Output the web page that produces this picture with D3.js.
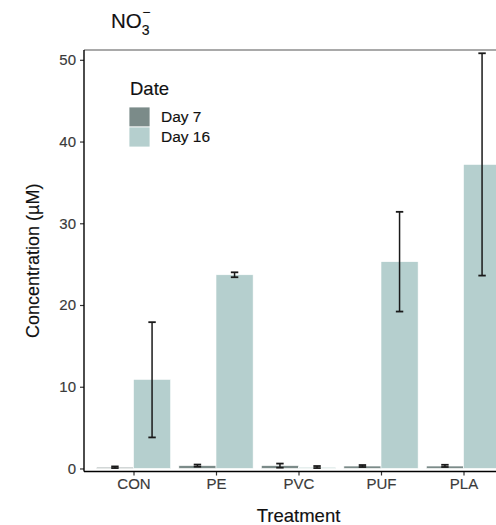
<!DOCTYPE html>
<html>
<head>
<meta charset="utf-8">
<script src="https://cdn.jsdelivr.net/npm/d3@7"></script>
<style>
  html, body { margin: 0; padding: 0; background: #fff; }
  svg { display: block; font-family: "Liberation Sans", Arial, sans-serif; }
  svg text { stroke-width: 0.15px; }
</style>
</head>
<body>
<svg id="chart" width="496" height="525"></svg>
<script>
// Nitrate concentration by treatment, two sampling dates
const categories = ["CON", "PE", "PVC", "PUF", "PLA"];
const dates = ["Day 7", "Day 16"];

const day7Mean = [0.15, 0.35, 0.35, 0.3, 0.3];
const day7Low  = [0.05, 0.22, 0.1, 0.18, 0.18];
const day7High = [0.25, 0.48, 0.6, 0.42, 0.45];

const day16Mean = [10.9, 23.7, 0.15, 25.3, 37.2];
const day16Low  = [3.8, 23.4, 0.05, 19.2, 23.6];
const day16High = [17.9, 24.0, 0.3, 31.4, 50.8];

const yTicks = [0, 10, 20, 30, 40, 50];
const colors = { "Day 7": "#7b8b89", "Day 16": "#b5cfce" };

const rows = [];
categories.forEach((c, i) => {
  rows.push({ cat: c, idx: i + 1, date: "Day 7", mean: day7Mean[i], lo: day7Low[i], hi: day7High[i] });
  rows.push({ cat: c, idx: i + 1, date: "Day 16", mean: day16Mean[i], lo: day16Low[i], hi: day16High[i] });
});

const svg = d3.select("#chart");

const panel = { left: 84, top: 50, bottom: 471.5 };
const step = 82.5;
const panelRight = panel.left + 5.2 * step;

// discrete positions 1..5 with 0.6 padding either side
const x = d3.scaleLinear().domain([0.4, 5.6]).range([panel.left, panelRight]);
const y = d3.scaleLinear().domain([-0.37, 51.2]).range([panel.bottom, panel.top]);

const dodge = 0.9;
const barW = dodge / 2;
const offset = d => (d.date === "Day 7" ? -barW / 2 : barW / 2);

// panel outline (top edge in grey)
svg.append("line")
  .attr("x1", panel.left).attr("x2", panelRight)
  .attr("y1", panel.top).attr("y2", panel.top)
  .attr("stroke", "#8c8c8c").attr("stroke-width", 1.3);

// bars
svg.append("g").selectAll("rect")
  .data(rows)
  .join("rect")
  .attr("x", d => x(d.idx + offset(d) - barW / 2))
  .attr("width", d => x(barW) - x(0))
  .attr("y", d => y(d.mean))
  .attr("height", d => y(0) - y(d.mean))
  .attr("fill", d => colors[d.date])
  .attr("stroke", "#fff")
  .attr("stroke-width", 0.6);

// error bars
const eb = svg.append("g").attr("stroke", "#1a1a1a").attr("stroke-width", 1.5).attr("fill", "none");
const capHalf = 0.045;
rows.forEach(d => {
  const cx = x(d.idx + offset(d));
  eb.append("line").attr("x1", cx).attr("x2", cx).attr("y1", y(d.lo)).attr("y2", y(d.hi));
  [d.lo, d.hi].forEach(v => {
    eb.append("line")
      .attr("x1", x(d.idx + offset(d) - capHalf)).attr("x2", x(d.idx + offset(d) + capHalf))
      .attr("y1", y(v)).attr("y2", y(v))
      .attr("stroke-width", 1.8);
  });
});

// y axis
const yAxis = svg.append("g")
  .attr("transform", `translate(${panel.left},0)`)
  .call(d3.axisLeft(y).tickValues(yTicks).tickSize(4).tickPadding(4));
yAxis.select(".domain").remove();
yAxis.append("line")
  .attr("x1", 0).attr("x2", 0).attr("y1", panel.top).attr("y2", panel.bottom)
  .attr("stroke", "#000").attr("stroke-width", 1.4);
yAxis.selectAll(".tick line").attr("stroke", "#333").attr("stroke-width", 1.2);
yAxis.selectAll(".tick text")
  .attr("font-size", 15).attr("fill", "#3a3a3a").attr("stroke", "#3a3a3a")
  .attr("font-family", "Liberation Sans, Arial, sans-serif");

// x axis
const xAxis = svg.append("g")
  .attr("transform", `translate(0,${panel.bottom})`)
  .call(d3.axisBottom(x).tickValues(categories.map((c, i) => i + 1))
    .tickFormat(v => categories[v - 1]).tickSize(4).tickPadding(3));
xAxis.select(".domain").remove();
xAxis.append("line")
  .attr("x1", panel.left).attr("x2", panelRight).attr("y1", 0).attr("y2", 0)
  .attr("stroke", "#000").attr("stroke-width", 1.4);
xAxis.selectAll(".tick line").attr("stroke", "#333").attr("stroke-width", 1.2);
xAxis.selectAll(".tick text")
  .attr("font-size", 15).attr("fill", "#3a3a3a").attr("stroke", "#3a3a3a")
  .attr("font-family", "Liberation Sans, Arial, sans-serif");

// axis titles
svg.append("text")
  .attr("x", (panel.left + panelRight) / 2).attr("y", 522)
  .attr("text-anchor", "middle").attr("font-size", 18.5)
  .attr("fill", "#111").attr("stroke", "#111")
  .text("Treatment");
svg.append("text")
  .attr("transform", `translate(39,${(panel.top + panel.bottom) / 2}) rotate(-90)`)
  .attr("text-anchor", "middle").attr("font-size", 18)
  .attr("fill", "#111").attr("stroke", "#111")
  .text("Concentration (µM)");

// title: NO3 with charge
const title = svg.append("g").attr("fill", "#111").attr("stroke", "#111");
const no = title.append("text").attr("x", 111).attr("y", 28).attr("font-size", 20.5).text("NO");
const noW = no.node().getComputedTextLength();
title.append("text").attr("x", 111 + noW).attr("y", 35).attr("font-size", 14).text("3");
title.append("text").attr("x", 111 + noW + 0.5).attr("y", 17).attr("font-size", 14).text("−");

// legend
const legend = svg.append("g");
legend.append("text").attr("x", 130).attr("y", 95).attr("font-size", 18.5)
  .attr("fill", "#111").attr("stroke", "#111").text("Date");
dates.forEach((d, i) => {
  legend.append("rect")
    .attr("x", 129).attr("y", 107 + i * 20)
    .attr("width", 21).attr("height", 20)
    .attr("fill", colors[d]).attr("stroke", "#fff").attr("stroke-width", 0.8);
  legend.append("text")
    .attr("x", 161).attr("y", 122 + i * 20)
    .attr("font-size", 15.5).attr("fill", "#111").attr("stroke", "#111")
    .text(d);
});
</script>
</body>
</html>
